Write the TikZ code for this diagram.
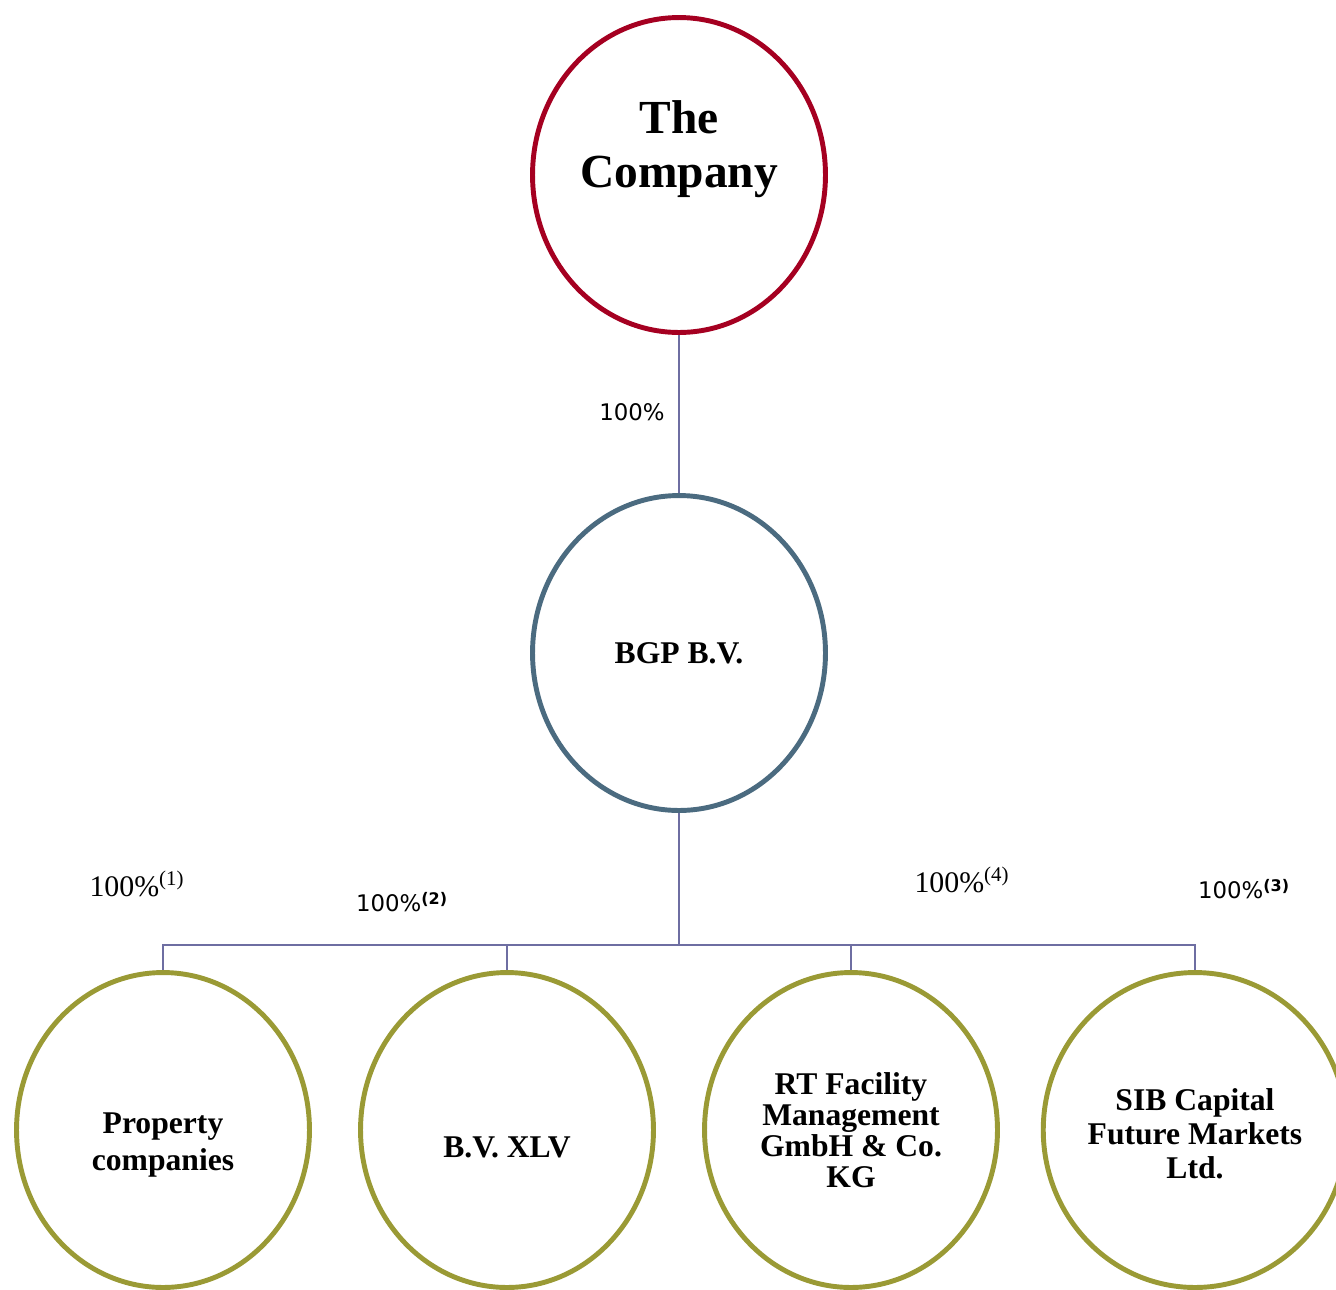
\documentclass[tikz,border=0pt]{standalone}
\usepackage{fontspec}
\setmainfont{Liberation Serif}
\newfontfamily\pctfont{DejaVu Sans}
\usepackage{tikz}
\usetikzlibrary{shapes.geometric,positioning,calc}
\usepackage{xcolor}
\definecolor{topred}{HTML}{A50021}
\definecolor{midblue}{HTML}{4B6B80}
\definecolor{subolive}{HTML}{9A9A35}
\definecolor{linkblue}{HTML}{6E6EA2}

\begin{document}
\begin{tikzpicture}[x=0.02cm, y=-0.02cm,
  entity/.style={draw, ellipse, line width=2.8pt, fill=white, inner sep=0pt,
    minimum width=5.86cm, minimum height=6.3cm, align=center, font=\bfseries},
  link/.style={draw=linkblue, line width=0.8pt},
  pctsans/.style={font=\pctfont\fontsize{13}{15}\selectfont},
  pctserif/.style={font=\fontsize{17}{20}\selectfont}]
\useasboundingbox (0,0) rectangle (1336,1289);

% Holding chain
\node[entity, draw=topred, font=\bfseries\fontsize{27}{31}\selectfont] (company) at (679,175) {The\\Company\\[0.15cm]};
\node[entity, draw=midblue, font=\bfseries\fontsize{18}{20}\selectfont] (bgp) at (679,653) {BGP B.V.};
\draw[link] (company) -- (bgp);
\node[pctsans] (pcttop) at (632,412) {100\%};

% Subsidiaries
\node[entity, draw=subolive, font=\bfseries\fontsize{18}{21}\selectfont] (prop) at (163,1130) {Property\\companies\\[-1.22cm]};
\node[entity, draw=subolive, font=\bfseries\fontsize{18}{20}\selectfont] (bvxlv) at (507,1130) {B.V. XLV\\[-1.26cm]};
\node[entity, draw=subolive, font=\bfseries\fontsize{18}{17.6}\selectfont] (rtfm) at (851,1130) {RT Facility\\Management\\GmbH \& Co.\\KG};
\node[entity, draw=subolive, font=\bfseries\fontsize{18}{19.4}\selectfont] (sib) at (1195,1130) {SIB Capital\\Future Markets\\Ltd.\\[-0.82cm]};

% Bus to the four subsidiaries
\coordinate (bus) at (679,945);
\draw[link] (bgp) -- (bus);
\draw[link] (bus) -| (prop);
\draw[link] (bus) -| (bvxlv);
\draw[link] (bus) -| (rtfm);
\draw[link] (bus) -| (sib);

% Share labels
\node[pctserif] (pctprop) at (137,884) {100\%\textsuperscript{(1)}};
\node[pctsans] (pctbv) at (402,902) {100\%\textsuperscript{\bfseries(2)}};
\node[pctserif] (pctrt) at (962,880) {100\%\textsuperscript{(4)}};
\node[pctsans] (pctsib) at (1244,889) {100\%\textsuperscript{\bfseries(3)}};
\end{tikzpicture}
\end{document}
